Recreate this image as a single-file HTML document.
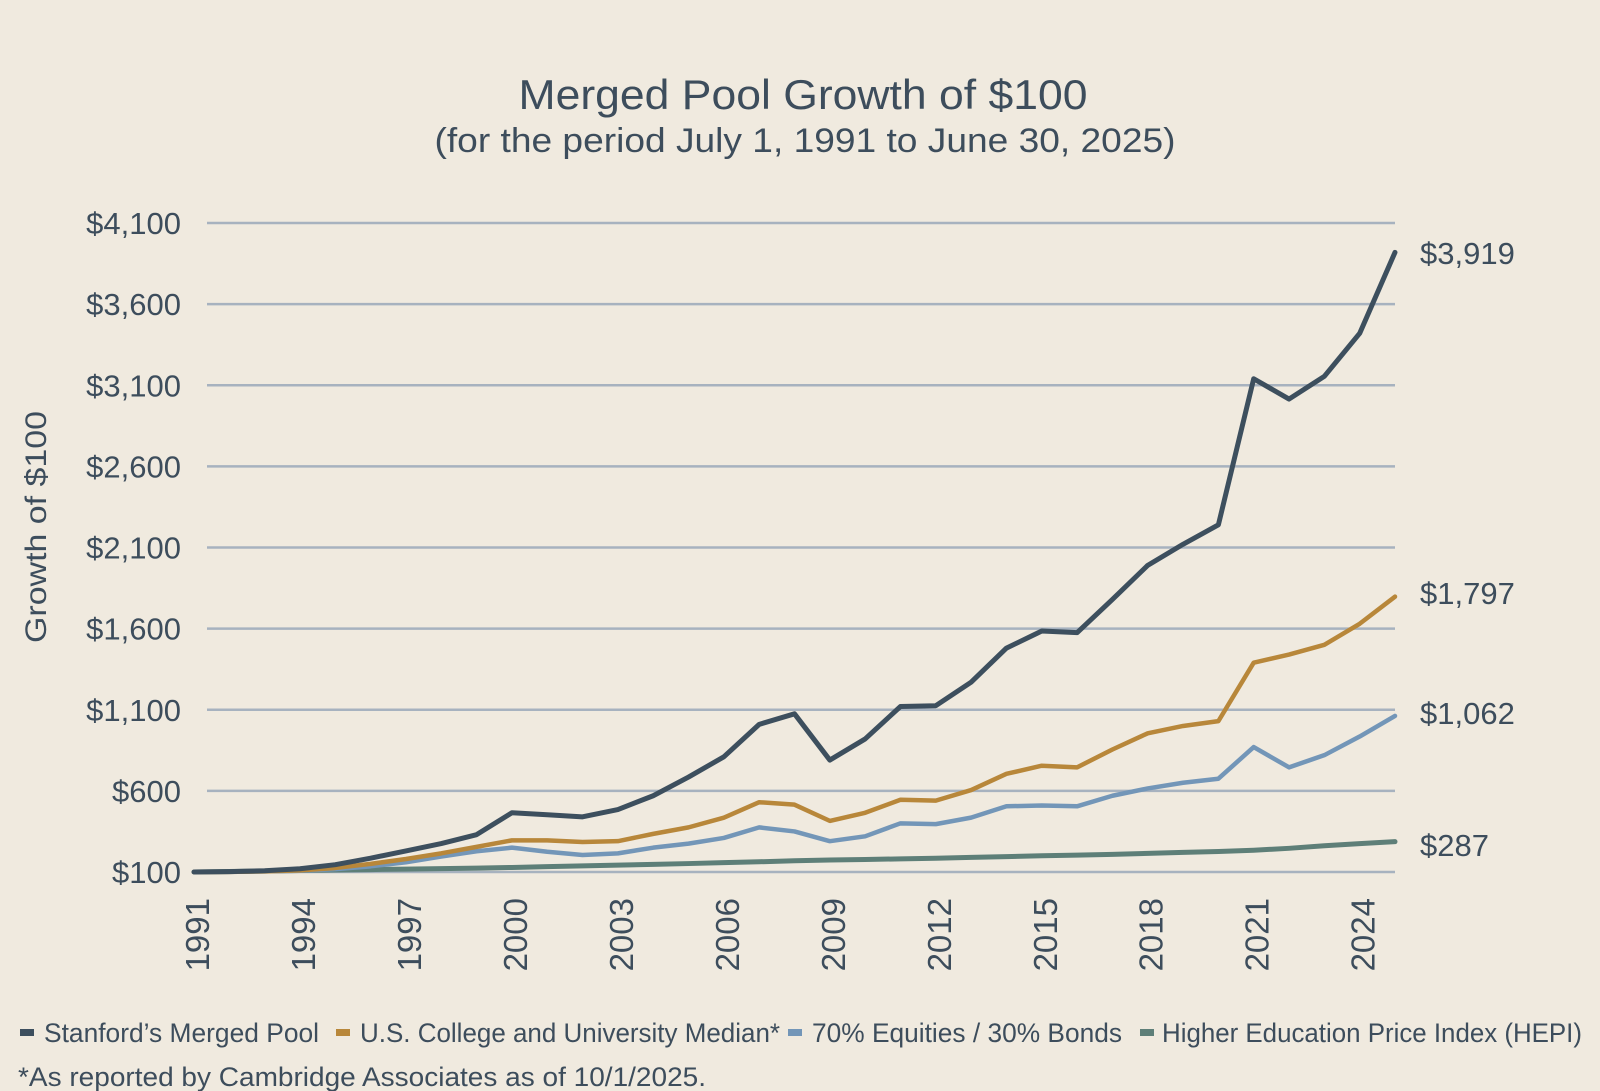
<!DOCTYPE html>
<html><head><meta charset="utf-8"><style>
html,body{margin:0;padding:0;background:#f0eadf;}
svg{display:block;font-family:"Liberation Sans",sans-serif;}
</style></head><body>
<svg id="chart" width="1600" height="1091" viewBox="0 0 1600 1091">
<rect width="1600" height="1091" fill="#f0eadf"/>
<text x="803" y="109" text-anchor="middle" font-size="42" fill="#3d4d5c" textLength="569" lengthAdjust="spacingAndGlyphs">Merged Pool Growth of $100</text>
<text x="805" y="152" text-anchor="middle" font-size="34" fill="#3d4d5c" textLength="741" lengthAdjust="spacingAndGlyphs">(for the period July 1, 1991 to June 30, 2025)</text>
<text transform="translate(46,527) rotate(-90)" text-anchor="middle" font-size="30" fill="#3d4d5c" textLength="232" lengthAdjust="spacingAndGlyphs">Growth of $100</text>
<g id="grid"></g><g id="yticks"></g><g id="xticks"></g><g id="lines"></g><g id="endlabels"></g>
<g font-size="27" fill="#3d4d5c">
<rect x="20" y="1029" width="14" height="7" fill="#3d4f5e"/>
<text x="44" y="1042" textLength="275" lengthAdjust="spacingAndGlyphs">Stanford’s Merged Pool</text>
<rect x="336" y="1029" width="14" height="7" fill="#b8873a"/>
<text x="360" y="1042" textLength="420" lengthAdjust="spacingAndGlyphs">U.S. College and University Median*</text>
<rect x="788" y="1029" width="14" height="7" fill="#7396b8"/>
<text x="812" y="1042" textLength="310" lengthAdjust="spacingAndGlyphs">70% Equities / 30% Bonds</text>
<rect x="1140" y="1029" width="14" height="7" fill="#5e7f78"/>
<text x="1162" y="1042" textLength="420" lengthAdjust="spacingAndGlyphs">Higher Education Price Index (HEPI)</text>
</g>
<text x="18" y="1086" font-size="27" fill="#3d4d5c" textLength="688" lengthAdjust="spacingAndGlyphs">*As reported by Cambridge Associates as of 10/1/2025.</text>
</svg>
<script>
const years = [1991,1992,1993,1994,1995,1996,1997,1998,1999,2000,2001,2002,2003,2004,2005,2006,2007,2008,2009,2010,2011,2012,2013,2014,2015,2016,2017,2018,2019,2020,2021,2022,2023,2024,2025];
const stanford = [100,102,108,120,145,185,230,275,330,465,453,440,485,570,685,810,1010,1075,790,920,1120,1125,1270,1480,1585,1575,1780,1990,2120,2240,3140,3015,3155,3420,3919];
const median = [100,101,104,110,125,150,180,215,255,295,295,285,290,335,375,435,530,515,415,465,545,540,605,705,755,745,855,955,1000,1030,1390,1440,1500,1630,1797];
const equity7030 = [100,101,104,108,118,135,160,195,228,250,225,205,215,250,275,310,375,350,290,320,400,395,435,505,510,505,570,615,650,675,870,745,820,935,1062];
const hepi = [100,103,106,109,112,115,118,121,124,128,133,138,142,147,152,158,163,169,174,177,181,185,190,195,200,204,209,215,221,226,234,246,262,275,287];
const yTicks = [100,600,1100,1600,2100,2600,3100,3600,4100];
const yTickLabels = ["$100","$600","$1,100","$1,600","$2,100","$2,600","$3,100","$3,600","$4,100"];
const xTickYears = [1991,1994,1997,2000,2003,2006,2009,2012,2015,2018,2021,2024];
const endLabels = ["$3,919","$1,797","$1,062","$287"];

const NS="http://www.w3.org/2000/svg";
const X0=194,X1=1395,Y0=872,Y1=223;
const xScale=y=>X0+(y-1991)/(2025-1991)*(X1-X0);
const yScale=v=>Y0-(v-100)/(4100-100)*(Y0-Y1);
function mk(tag,attrs,parent){const e=document.createElementNS(NS,tag);for(const k in attrs)e.setAttribute(k,attrs[k]);parent.appendChild(e);return e;}
const grid=document.getElementById('grid'),yt=document.getElementById('yticks'),xt=document.getElementById('xticks'),lg=document.getElementById('lines'),el=document.getElementById('endlabels');
yTicks.forEach((v,i)=>{
  const l=mk('line',{x1:207,x2:X1,y1:yScale(v),y2:yScale(v),stroke:'#a7b2bf','stroke-width':2.5},grid);
  
  
  const t=mk('text',{x:181,y:yScale(v)+11,'text-anchor':'end','font-size':31,fill:'#3d4d5c'},yt);
  
  
  t.textContent=yTickLabels[i];
});
xTickYears.forEach(y=>{
  const t=mk('text',{transform:`translate(${xScale(y)+15},898) rotate(-90)`,'text-anchor':'end','font-size':33,fill:'#3d4d5c'},xt);
  
  
  t.textContent=y;
});
const series=[[hepi,'#5e7f78','line-hepi',5],[equity7030,'#7396b8','line-7030',4.5],[median,'#b8873a','line-median',4.5],[stanford,'#3d4f5e','line-stanford',5]];
series.forEach(([d,c,n,w])=>{
  const p=mk('polyline',{points:d.map((v,i)=>xScale(years[i])+','+yScale(v)).join(' '),fill:'none',stroke:c,'stroke-width':w,'stroke-linejoin':'round','stroke-linecap':'round'},lg);
  
  
});
const labelY=[253,593,713,845];
endLabels.forEach((lab,i)=>{
  const t=mk('text',{x:1420,y:labelY[i]+11,'font-size':31,fill:'#3d4d5c'},el);
  
  
  t.textContent=lab;
});
</script>
</body></html>
